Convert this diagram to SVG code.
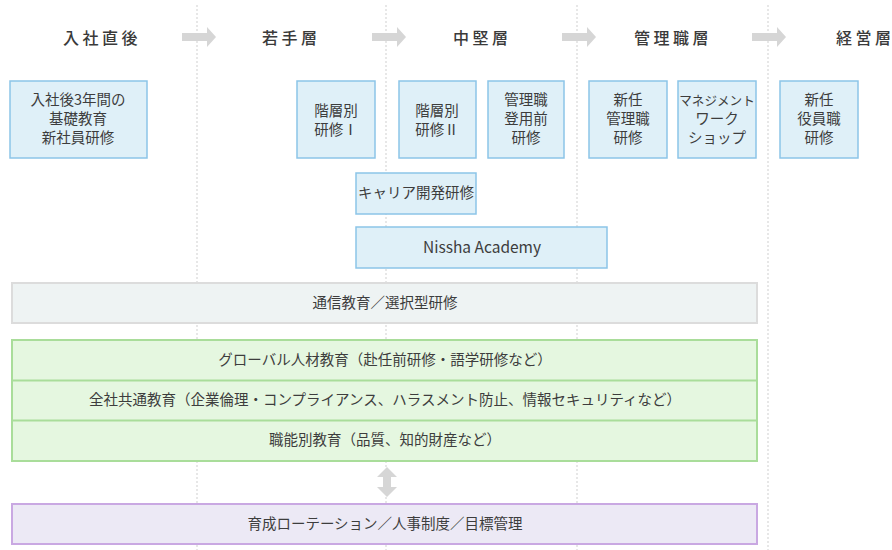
<svg xmlns="http://www.w3.org/2000/svg" width="892" height="550" viewBox="0 0 892 550">
<defs>
<style>
text{font-family:"Noto Sans CJK JP","Noto Sans",sans-serif;fill:#3d3d3d;}
.hd{font-size:16px;letter-spacing:3.5px;font-weight:500;fill:#3a3a3a;}
.bt{font-size:14.5px;text-anchor:middle;}
.blue{fill:#dff0f8;stroke:#8cc5e8;stroke-width:1.5;}
.gray{fill:#eef3f3;stroke:#dcdcdc;stroke-width:2;}
.green{fill:#e5f7e0;stroke:#a9dd9a;stroke-width:2;}
.purple{fill:#ece9f5;stroke:#c9a8e2;stroke-width:2;}
.dash{stroke:#d8d8d8;stroke-width:1.2;stroke-dasharray:2 2;fill:none;}
.arr{fill:#d6d6d6;}
</style>
<path id="harr" d="M0,-4 H25 V-10 L34,0 L25,10 V4 H0 Z"/>
</defs>
<rect width="892" height="550" fill="#fff"/>
<g id="grid">
<line class="dash" x1="197" y1="5" x2="197" y2="550"/>
<line class="dash" x1="386" y1="5" x2="386" y2="550"/>
<line class="dash" x1="577" y1="5" x2="577" y2="550"/>
<line class="dash" x1="768" y1="5" x2="768" y2="550"/>
</g>
<g id="headers">
<text class="hd" x="63" y="44">入社直後</text>
<text class="hd" x="262" y="44">若手層</text>
<text class="hd" x="453" y="44">中堅層</text>
<text class="hd" x="634" y="44">管理職層</text>
<text class="hd" x="836" y="44">経営層</text>
</g>
<g id="connectors">
<use href="#harr" class="arr" x="182" y="37"/>
<use href="#harr" class="arr" x="372" y="37"/>
<use href="#harr" class="arr" x="562" y="37"/>
<use href="#harr" class="arr" x="752" y="37"/>
<path class="arr" d="M387,467 L397,477 H391 V487 H397 L387,497 L377,487 H383 V477 H377 Z"/>
</g>
<g id="n1"><rect class="blue" x="10" y="81" width="137" height="77"/>
<text class="bt" x="78" y="105">入社後3年間の</text><text class="bt" x="78" y="124">基礎教育</text><text class="bt" x="78" y="143">新社員研修</text></g>
<g id="n2"><rect class="blue" x="297" y="81" width="78" height="77"/>
<text class="bt" x="336" y="116">階層別</text><text class="bt" x="336" y="135">研修Ⅰ</text></g>
<g id="n3"><rect class="blue" x="399" y="81" width="77" height="77"/>
<text class="bt" x="437" y="116">階層別</text><text class="bt" x="437" y="135">研修Ⅱ</text></g>
<g id="n4"><rect class="blue" x="488" y="81" width="76" height="77"/>
<text class="bt" x="526" y="105">管理職</text><text class="bt" x="526" y="124">登用前</text><text class="bt" x="526" y="143">研修</text></g>
<g id="n5"><rect class="blue" x="589" y="81" width="78" height="77"/>
<text class="bt" x="628" y="105">新任</text><text class="bt" x="628" y="124">管理職</text><text class="bt" x="628" y="143">研修</text></g>
<g id="n6"><rect class="blue" x="678" y="81" width="78" height="77"/>
<text class="bt" x="717" y="105" style="font-size:12.6px">マネジメント</text><text class="bt" x="717" y="124">ワーク</text><text class="bt" x="717" y="143">ショップ</text></g>
<g id="n7"><rect class="blue" x="780" y="81" width="78" height="77"/>
<text class="bt" x="819" y="105">新任</text><text class="bt" x="819" y="124">役員職</text><text class="bt" x="819" y="143">研修</text></g>
<g id="n8"><rect class="blue" x="356" y="173" width="120" height="41"/>
<text class="bt" x="416" y="198">キャリア開発研修</text></g>
<g id="n9"><rect class="blue" x="356" y="227" width="251" height="41"/>
<text class="bt" x="482" y="253" style="font-size:15.5px">Nissha Academy</text></g>
<g id="n10"><rect class="gray" x="12" y="283" width="745" height="40"/>
<text class="bt" x="385" y="308">通信教育／選択型研修</text></g>
<g id="n11"><rect class="green" x="12" y="340" width="745" height="121"/>
<line x1="12" y1="380.5" x2="757" y2="380.5" stroke="#a9dd9a" stroke-width="2"/>
<line x1="12" y1="420.5" x2="757" y2="420.5" stroke="#a9dd9a" stroke-width="2"/>
<text class="bt" x="385" y="365">グローバル人材教育（赴任前研修・語学研修など）</text>
<text class="bt" x="385" y="405">全社共通教育（企業倫理・コンプライアンス、ハラスメント防止、情報セキュリティなど）</text>
<text class="bt" x="385" y="445">職能別教育（品質、知的財産など）</text></g>
<g id="n12"><rect class="purple" x="12" y="504" width="745" height="40"/>
<text class="bt" x="385" y="529">育成ローテーション／人事制度／目標管理</text></g>
</svg>
